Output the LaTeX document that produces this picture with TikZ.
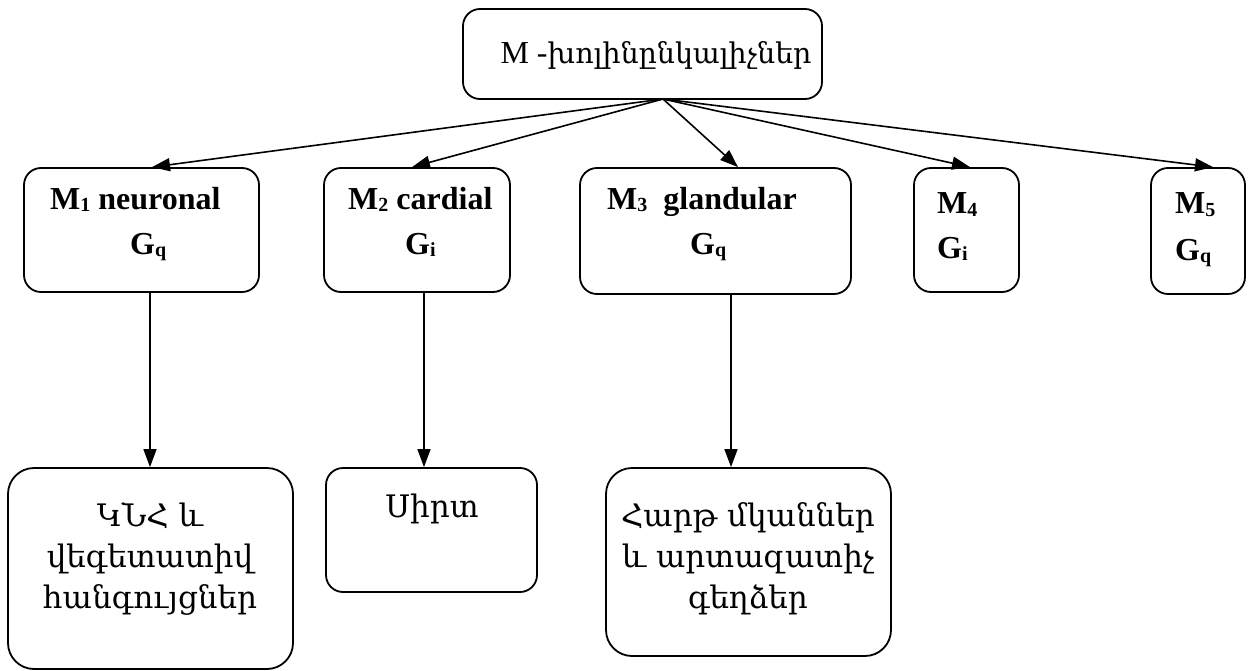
\documentclass[tikz,border=0pt]{standalone}
\usepackage{fontspec}
\setmainfont{Liberation Serif}
\newfontfamily\armfont{DejaVu Serif}
\usetikzlibrary{arrows.meta}
\newcommand{\lowsub}[1]{{\fontsize{20}{20}\selectfont\raisebox{-2pt}{#1}}}
\tikzset{
  box/.style={draw, line width=1.8pt, rounded corners=17pt, inner sep=0pt},
  bigbox/.style={box, rounded corners=26pt},
  lbl/.style={inner sep=0pt, font=\fontsize{32}{40}\selectfont\bfseries},
  arm/.style={inner sep=0pt, align=center, font=\fontsize{31}{41}\selectfont\armfont},
  arr/.style={line width=1.6pt, -{Triangle[length=18pt,width=13pt]}}
}
\begin{document}
\begin{tikzpicture}[x=1pt,y=-1pt]
\useasboundingbox (0,0) rectangle (1252,671);
% boxes
\node[box, minimum width=359pt, minimum height=90pt] (top) at (642.5,54) {};
\node[box, minimum width=235pt, minimum height=124pt] (m1) at (141.5,230) {};
\node[box, minimum width=186pt, minimum height=124pt] (m2) at (417,230) {};
\node[box, minimum width=271pt, minimum height=126pt] (m3) at (715.5,231) {};
\node[box, minimum width=105pt, minimum height=124pt] (m4) at (966.5,230) {};
\node[box, minimum width=94pt, minimum height=126pt] (m5) at (1198,231) {};
\node[bigbox, minimum width=285pt, minimum height=201pt] (b1) at (150.5,568.5) {};
\node[box, minimum width=211pt, minimum height=124pt] (b2) at (431.5,530) {};
\node[bigbox, minimum width=285pt, minimum height=188pt] (b3) at (748.5,562) {};
% texts
\node[inner sep=0pt, anchor=base, font=\fontsize{32}{40}\selectfont] (topt) at (656,64) {M -{\armfont\fontsize{28.5}{40}\selectfont խոլինընկալիչներ}};
\node[lbl, anchor=base west] (m1a) at (50,209) {M\lowsub{1} neuronal};
\node[lbl, anchor=base west] (m1b) at (130,254) {G\lowsub{q}};
\node[lbl, anchor=base west] (m2a) at (348,209) {M\lowsub{2} cardial};
\node[lbl, anchor=base west] (m2b) at (405,254) {G\lowsub{i}};
\node[lbl, anchor=base west] (m3a) at (607,209) {M\lowsub{3}~~glandular};
\node[lbl, anchor=base west] (m3b) at (690,254) {G\lowsub{q}};
\node[lbl, anchor=base west] (m4a) at (937,214) {M\lowsub{4}};
\node[lbl, anchor=base west] (m4b) at (937,258) {G\lowsub{i}};
\node[lbl, anchor=base west] (m5a) at (1175,214) {M\lowsub{5}};
\node[lbl, anchor=base west] (m5b) at (1175,260) {G\lowsub{q}};
\node[arm, anchor=north] (b1t) at (150,502) {ԿՆՀ և\\վեգետատիվ\\հանգույցներ};
\node[arm, anchor=north] (b2t) at (432,494) {Սիրտ};
\node[arm, anchor=north] (b3t) at (748,502) {Հարթ մկաններ\\և արտազատիչ\\գեղձեր};
% connectors
\coordinate (src) at (663,99);
\draw[arr] (src) -- (m1.north -| 152,0);
\draw[arr] (src) -- (m2.north -| 412,0);
\draw[arr] (src) -- (m3.north -| 738,0);
\draw[arr] (src) -- (m4.north -| 970,0);
\draw[arr] (src) -- (m5.north -| 1213,0);
\draw[arr] (m1.south -| 150,0) -- (b1.north -| 150,0);
\draw[arr] (m2.south -| 424,0) -- (b2.north -| 424,0);
\draw[arr] (m3.south -| 731,0) -- (b3.north -| 731,0);
\end{tikzpicture}
\end{document}
